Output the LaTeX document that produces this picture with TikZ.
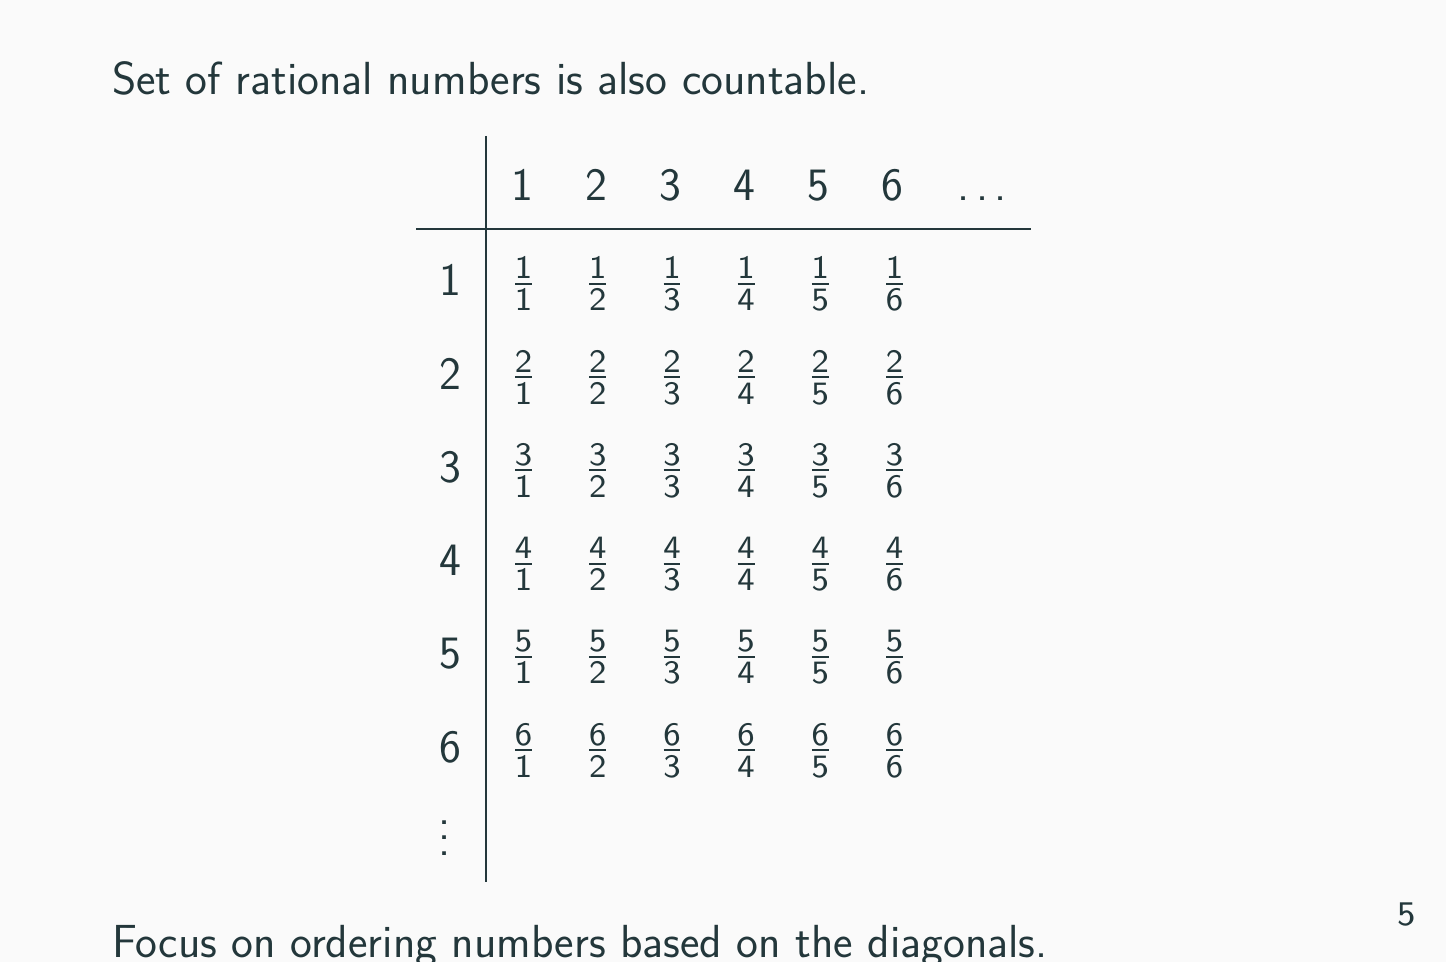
\documentclass[tikz,border=0pt]{standalone}
\usepackage{fontspec}
\newfontfamily\lmseight{lmsans8-regular}[Extension=.otf]
\definecolor{fg}{HTML}{23373B}
\definecolor{bg}{HTML}{FAFAFA}
\newcommand\bigfnt{\sffamily\fontsize{23.2}{27}\selectfont}
\newcommand\smallfnt{\lmseight\fontsize{16.3}{19}\selectfont}
\newcommand\pagefnt{\lmseight\fontsize{17.3}{20}\selectfont}
\tikzset{
  txt/.style={inner sep=0pt, outer sep=0pt, text=fg, font=\bigfnt},
  big/.style={txt, anchor=base},
  small/.style={inner sep=0pt, outer sep=0pt, text=fg, font=\smallfnt, anchor=base},
  rule/.style={draw=fg, line width=1pt},
  fracbar/.style={draw=fg, line width=0.9pt},
}
\begin{document}
\begin{tikzpicture}[x=0.5pt,y=-0.5pt]
\fill[bg] (0,0) rectangle (1446,962);
\useasboundingbox (0,0) rectangle (1446,962);

\node[txt, anchor=base west] (title) at (112,95) {Set of rational numbers is also countable.};
\node[txt, anchor=base west] (focus) at (112,957) {Focus on ordering numbers based on the diagonals.};
\node[inner sep=0pt, text=fg, font=\pagefnt, anchor=base] (page) at (1407,925) {5};

% rules
\coordinate (vtop) at (486,136);
\coordinate (vbot) at (486,882);
\coordinate (hleft) at (416,229);
\coordinate (hright) at (1031,229);
\draw[rule] (vtop) -- (vbot);
\draw[rule] (hleft) -- (hright);

% header
\foreach \j in {1,...,6} {
  \pgfmathsetmacro\cx{522+74*(\j-1)}
  \node[big] (h\j) at (\cx,201) {\j};
}
\node[big] (hd1) at (964,201) {.};
\node[big] (hd2) at (982.5,201) {.};
\node[big] (hd3) at (1000.5,201) {.};

% rows
\foreach \i in {1,...,6} {
  \pgfmathsetmacro\dy{93.2*(\i-1)}
  \node[big] (r\i) at (450.5,296+\dy) {\i};
  \foreach \j in {1,...,6} {
    \pgfmathsetmacro\cx{523.5+74.2*(\j-1)}
    \node[small] (n\i\j) at (\cx,279+\dy) {\i};
    \node[small] (d\i\j) at (\cx,311+\dy) {\j};
    \draw[fracbar] (\cx-8.4,284+\dy) -- (\cx+8.4,284+\dy);
  }
}

% vertical dots
\node[big] (vdots) at (445,855) {\vbox{\baselineskip=7.75pt\lineskiplimit=-20pt\lineskip=0pt\hbox{.}\hbox{.}\hbox{.}}};
\end{tikzpicture}
\end{document}
